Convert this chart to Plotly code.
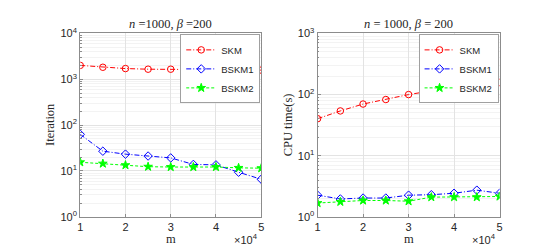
import plotly.graph_objects as go

m_vals = [10000, 15000, 20000, 25000, 30000, 35000, 40000, 45000, 50000]
m_tick_vals = [10000, 20000, 30000, 40000, 50000]
m_tick_text = ["1", "2", "3", "4", "5"]

iter_skm = [2010, 1830, 1715, 1660, 1660, 1635, 1610, 1610, 1585]
iter_bskm1 = [63, 27, 23.3, 21.2, 19.3, 13.9, 13.6, 9.4, 6.6]
iter_bskm2 = [15.5, 14.5, 13.4, 12.4, 12.2, 12.2, 12.2, 11.7, 11.5]

cpu_skm = [40.3, 54, 70, 83, 100, 115, 130, 149, 158]
cpu_bskm1 = [2.26, 1.96, 2.03, 2.03, 2.26, 2.3, 2.43, 2.73, 2.43]
cpu_bskm2 = [1.68, 1.76, 1.85, 1.85, 1.80, 2.1, 2.1, 2.1, 2.15]

left_yticks = [1, 10, 100, 1000, 10000]
left_ytext = ["10<sup>0</sup>", "10<sup>1</sup>", "10<sup>2</sup>", "10<sup>3</sup>", "10<sup>4</sup>"]
right_yticks = [1, 10, 100, 1000]
right_ytext = ["10<sup>0</sup>", "10<sup>1</sup>", "10<sup>2</sup>", "10<sup>3</sup>"]

names = ["SKM", "BSKM1", "BSKM2"]
colors = ["#ff0000", "#0000ff", "#00ff00"]
symbols = ["circle-open", "diamond-open", "star"]
dashes = ["5px,2px,1px,2px", "5px,2px,1px,2px", "3px,2px"]

fig = go.Figure()

def add(series, xa, ya, leg):
    for s, n, c, sym, d in zip(series, names, colors, symbols, dashes):
        fig.add_trace(go.Scatter(
            x=m_vals, y=s, name=n, mode="lines+markers",
            line=dict(color=c, width=1, dash=d),
            marker=dict(symbol=sym, size=6.5, color=c, line=dict(color=c, width=1)),
            xaxis=xa, yaxis=ya, legend=leg, showlegend=True))

add([iter_skm, iter_bskm1, iter_bskm2], "x", "y", "legend")
add([cpu_skm, cpu_bskm1, cpu_bskm2], "x2", "y2", "legend2")

W, H = 545, 245
tickfont = dict(family="Liberation Sans, Arial", size=11, color="#262626")
axcol = "#8c8c8c"
grid = "#e3e3e3"
mgrid = "#f3f3f3"

def xax(dom, anchor):
    return dict(domain=dom, anchor=anchor, range=[10000, 50000], tickvals=m_tick_vals, ticktext=m_tick_text,
                ticks="inside", ticklen=3, tickcolor=axcol, showline=True, linecolor=axcol, linewidth=1,
                mirror=True, showgrid=True, gridcolor=grid, zeroline=False, tickfont=tickfont)

def yax(dom, anchor, rng, tv, tt):
    return dict(domain=dom, anchor=anchor, type="log", range=rng, tickvals=tv, ticktext=tt,
                ticks="inside", ticklen=3, tickcolor=axcol, showline=True, linecolor=axcol, linewidth=1,
                mirror=True, showgrid=True, gridcolor=grid, zeroline=False, tickfont=tickfont,
                minor=dict(dtick="D1", showgrid=True, gridcolor=mgrid, ticks="inside", ticklen=1.5, tickcolor=axcol))

ydom = [1 - 213 / H, 1 - 18.5 / H]
legfont = dict(family="Liberation Sans, Arial", size=9.5, color="#262626")
fig.update_layout(
    width=W, height=H, margin=dict(l=0, r=0, t=0, b=0),
    paper_bgcolor="white", plot_bgcolor="white",
    xaxis=xax([70 / W, 253 / W], "y"),
    yaxis=yax(ydom, "x", [0, 4], left_yticks, left_ytext),
    xaxis2=xax([310 / W, 494 / W], "y2"),
    yaxis2=yax(ydom, "x2", [0, 3], right_yticks, right_ytext),
    legend=dict(x=252 / W, y=1 - 19.5 / H, xanchor="right", yanchor="top", bgcolor="white",
                bordercolor="#a0a0a0", borderwidth=1, font=legfont, tracegroupgap=0, itemwidth=30),
    legend2=dict(x=493 / W, y=1 - 19.5 / H, xanchor="right", yanchor="top", bgcolor="white",
                 bordercolor="#a0a0a0", borderwidth=1, font=legfont, tracegroupgap=0, itemwidth=30),
)

serif = dict(family="Liberation Serif, Times New Roman", size=12.5, color="#262626")
ann = [
    dict(x=161.5 / W, y=1 - 8 / H, text="<i>n</i> =1000, <i>β</i> =200"),
    dict(x=402 / W, y=1 - 8 / H, text="<i>n</i> = 1000, <i>β</i> = 200"),
    dict(x=161.5 / W, y=1 - 236 / H, text="m"),
    dict(x=402 / W, y=1 - 236 / H, text="m"),
    dict(x=40 / W, y=1 - 115 / H, text="Iteration", textangle=-90),
    dict(x=281 / W, y=1 - 115 / H, text="CPU time(s)", textangle=-90),
]
for a in ann:
    fig.add_annotation(xref="paper", yref="paper", showarrow=False, font=serif,
                       xanchor="center", yanchor="middle", **a)
for xc in [238, 478]:
    fig.add_annotation(xref="paper", yref="paper", showarrow=False, x=xc / W, y=1 - 236 / H,
                       text="×10<sup>4</sup>", font=tickfont, xanchor="center", yanchor="middle")

fig.write_html("out.html")
